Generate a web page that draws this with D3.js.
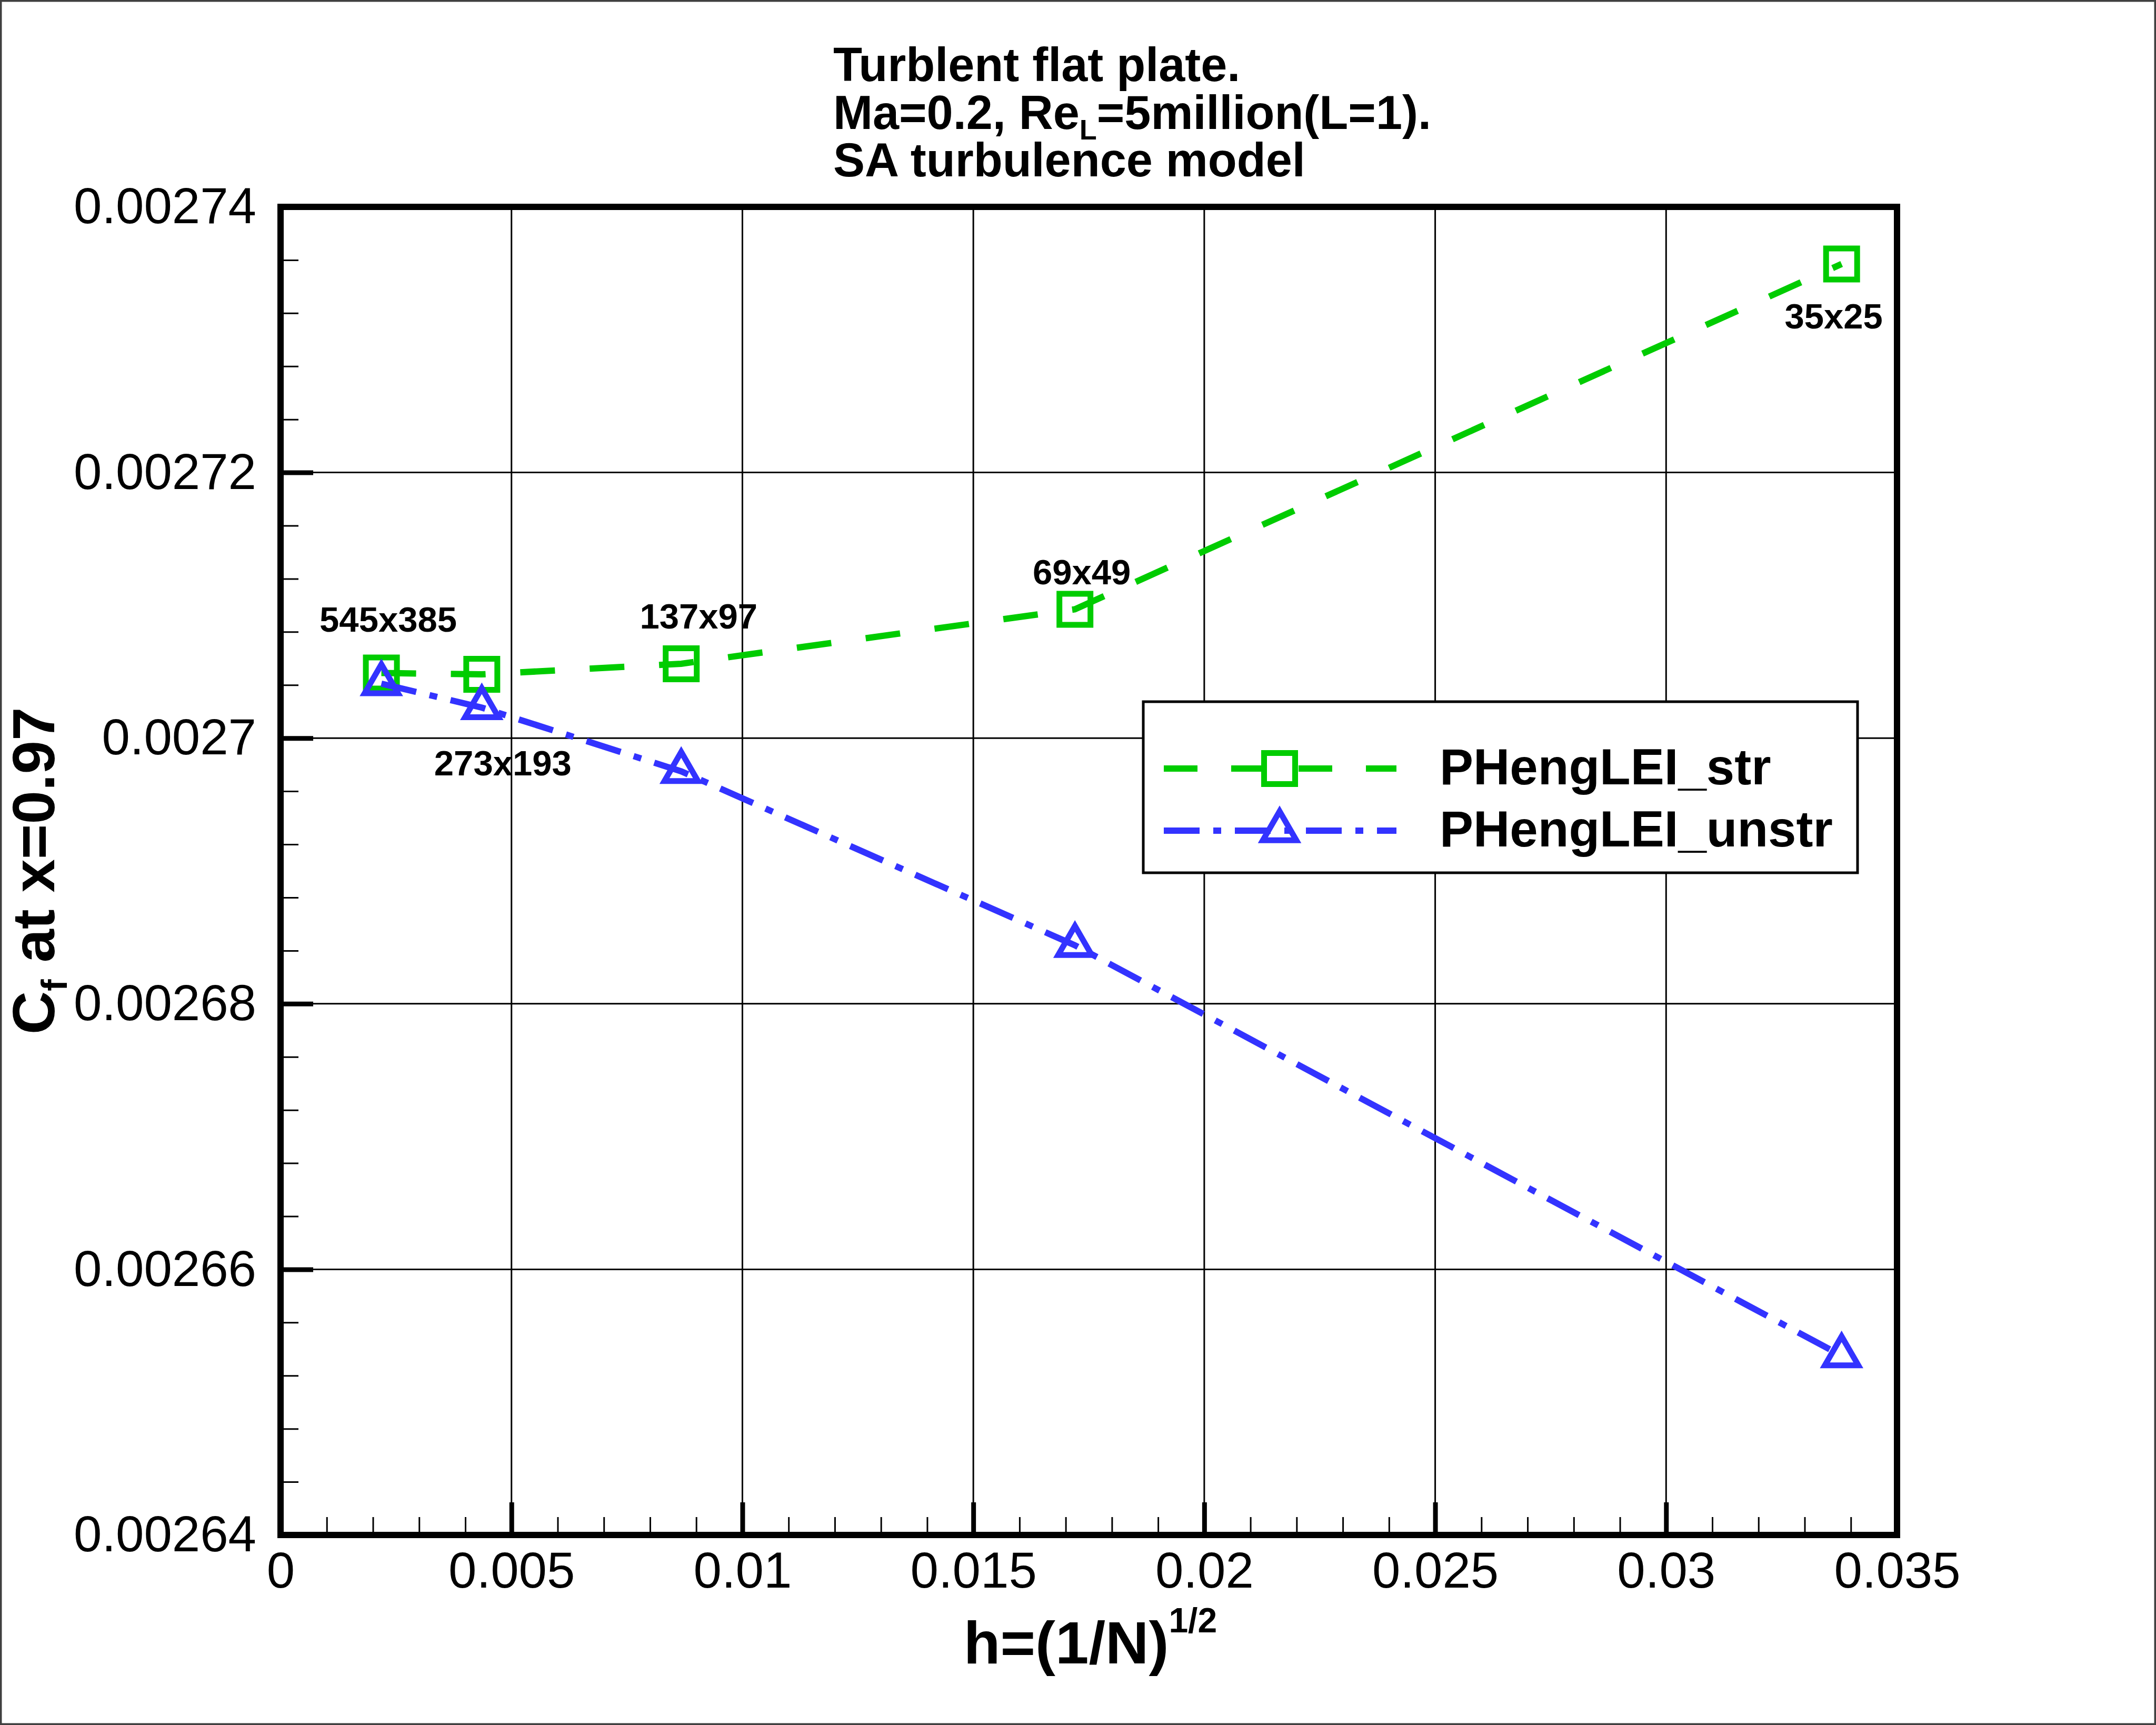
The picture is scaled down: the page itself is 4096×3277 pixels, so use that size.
<!DOCTYPE html>
<html>
<head>
<meta charset="utf-8">
<script src="https://cdn.jsdelivr.net/npm/d3@7"></script>
<style>
  body { margin: 0; background: #fff; }
  svg { display: block; font-family: "Liberation Sans", Arial, sans-serif; }
</style>
</head>
<body>
<svg id="chart"></svg>
<script>
const W = 4096, H = 3277;
const margin = {top: 393, right: 4096 - 3604, bottom: 3277 - 2916, left: 533};
const width = W - margin.left - margin.right,
    height = H - margin.top - margin.bottom;

// grid spacing h = (1/N)^(1/2) and the mesh sizes
const hValues = [0.002183, 0.004357, 0.008675, 0.01720, 0.0338];
const meshNames = ["545x385", "273x193", "137x97", "69x49", "35x25"];
// Cf at x=0.97
const cfStr = [0.0027049, 0.0027048, 0.0027056, 0.0027097, 0.0027357];
const cfUnstr = [0.0027041, 0.0027023, 0.0026975, 0.0026844, 0.0026535];

const xTicks = [0, 0.005, 0.01, 0.015, 0.02, 0.025, 0.03, 0.035];
const xTickLabels = ["0", "0.005", "0.01", "0.015", "0.02", "0.025", "0.03", "0.035"];
const yTicks = [0.00264, 0.00266, 0.00268, 0.0027, 0.00272, 0.00274];
const yTickLabels = ["0.00264", "0.00266", "0.00268", "0.0027", "0.00272", "0.00274"];

const seriesNames = ["PHengLEI_str", "PHengLEI_unstr"];

var green = "#00cc00";
var blue = "#3333ff";

const svg = d3.select("#chart")
    .attr("width", W)
    .attr("height", H);

svg.append("rect")
    .attr("width", W).attr("height", H)
    .attr("fill", "#fff")
    .attr("stroke", "#404040")
    .attr("stroke-width", 7);

const g = svg.append("g")
    .attr("transform", "translate(" + margin.left + "," + margin.top + ")");

var xScale = d3.scaleLinear().domain([0, 0.035]).range([0, width]);
var yScale = d3.scaleLinear().domain([0.00264, 0.00274]).range([height, 0]);

// minor ticks, 5 subdivisions between majors
var xMinor = d3.range(0, 36).map(function (i) { return i * 0.001; });
var yMinor = d3.range(0, 26).map(function (i) { return 0.00264 + i * 0.000004; });

// grid
g.append("g").selectAll("line")
    .data(xTicks.slice(1, -1))
    .enter().append("line")
    .attr("x1", function (d) { return xScale(d); })
    .attr("x2", function (d) { return xScale(d); })
    .attr("y1", 0).attr("y2", height)
    .attr("stroke", "#000").attr("stroke-width", 3);

g.append("g").selectAll("line")
    .data(yTicks.slice(1, -1))
    .enter().append("line")
    .attr("y1", function (d) { return yScale(d); })
    .attr("y2", function (d) { return yScale(d); })
    .attr("x1", 0).attr("x2", width)
    .attr("stroke", "#000").attr("stroke-width", 3);

// minor ticks (inward)
g.append("g")
    .attr("class", "x-minor")
    .attr("transform", "translate(0," + height + ")")
    .call(d3.axisBottom(xScale).tickValues(xMinor).tickSize(-34).tickFormat(""));
g.append("g")
    .attr("class", "y-minor")
    .call(d3.axisLeft(yScale).tickValues(yMinor).tickSize(-34).tickFormat(""));

// major ticks + labels
g.append("g")
    .attr("class", "x-axis")
    .attr("transform", "translate(0," + height + ")")
    .call(d3.axisBottom(xScale)
        .tickValues(xTicks)
        .tickSize(-62)
        .tickPadding(32)
        .tickFormat(function (d, i) { return xTickLabels[i]; }));

g.append("g")
    .attr("class", "y-axis")
    .call(d3.axisLeft(yScale)
        .tickValues(yTicks)
        .tickSize(-62)
        .tickPadding(46)
        .tickFormat(function (d, i) { return yTickLabels[i]; }));

g.selectAll(".domain").remove();
g.selectAll(".x-minor line, .y-minor line").attr("stroke", "#000").attr("stroke-width", 3);
g.selectAll(".x-axis line, .y-axis line").attr("stroke", "#000").attr("stroke-width", 9);
g.selectAll(".x-axis text, .y-axis text")
    .attr("fill", "#000")
    .style("font-size", "96px")
    .style("font-family", "'Liberation Sans', Arial, sans-serif");

// frame
g.append("rect")
    .attr("x", 0).attr("y", 0)
    .attr("width", width).attr("height", height)
    .attr("fill", "none")
    .attr("stroke", "#000")
    .attr("stroke-width", 12);

// series
var series = [
    {name: seriesNames[0], values: cfStr, color: green, dash: "66,66", symbol: d3.symbolSquare, size: 3481},
    {name: seriesNames[1], values: cfUnstr, color: blue, dash: "68,26,15,26", symbol: d3.symbolTriangle, size: 1750}
];

var line = d3.line()
    .x(function (d) { return xScale(d[0]); })
    .y(function (d) { return yScale(d[1]); });

series.forEach(function (s) {
    var pts = hValues.map(function (h, i) { return [h, s.values[i]]; });

    g.append("path")
        .datum(pts)
        .attr("d", line)
        .attr("fill", "none")
        .attr("stroke", s.color)
        .attr("stroke-width", 12)
        .attr("stroke-dasharray", s.dash);

    g.append("g").selectAll("path")
        .data(pts)
        .enter().append("path")
        .attr("transform", function (d) { return "translate(" + xScale(d[0]) + "," + yScale(d[1]) + ")"; })
        .attr("d", d3.symbol().type(s.symbol).size(s.size))
        .attr("fill", "none")
        .attr("stroke", s.color)
        .attr("stroke-width", 11);
});

// mesh labels, placed next to the point they belong to
var labelOffsets = [
    {s: 0, dx: 13, dy: -79},
    {s: 1, dx: 40, dy: 129},
    {s: 0, dx: 33, dy: -67},
    {s: 0, dx: 13, dy: -47},
    {s: 0, dx: -15, dy: 123}
];

g.append("g").selectAll("text")
    .data(meshNames)
    .enter().append("text")
    .attr("x", function (d, i) { return xScale(hValues[i]) + labelOffsets[i].dx; })
    .attr("y", function (d, i) { return yScale(series[labelOffsets[i].s].values[i]) + labelOffsets[i].dy; })
    .attr("text-anchor", "middle")
    .style("font-size", "67px")
    .style("font-weight", "bold")
    .text(function (d) { return d; });

// legend
var legend = svg.append("g").attr("transform", "translate(2172,1333)");
legend.append("rect")
    .attr("width", 1357).attr("height", 325)
    .attr("fill", "#fff")
    .attr("stroke", "#000")
    .attr("stroke-width", 5);

var legendRows = legend.selectAll("g.row")
    .data(series)
    .enter().append("g")
    .attr("class", "row")
    .attr("transform", function (d, i) { return "translate(0," + (127 + i * 118) + ")"; });

legendRows.append("line")
    .attr("x1", 39).attr("x2", 481)
    .attr("stroke", function (d) { return d.color; })
    .attr("stroke-width", 12)
    .attr("stroke-dasharray", function (d, i) { return i === 0 ? "64,64" : d.dash; });

legendRows.append("path")
    .attr("transform", "translate(259,0)")
    .attr("d", function (d) { return d3.symbol().type(d.symbol).size(d.size)(); })
    .attr("fill", "none")
    .attr("stroke", function (d) { return d.color; })
    .attr("stroke-width", 11);

legendRows.append("text")
    .attr("x", 563)
    .attr("y", 30)
    .style("font-size", "96px")
    .style("font-weight", "bold")
    .text(function (d) { return d.name; });

// title, three lines
var titleX = 1583;
svg.append("text")
    .attr("x", titleX).attr("y", 154)
    .style("font-size", "90px").style("font-weight", "bold")
    .text("Turblent flat plate.");

var t2 = svg.append("text")
    .attr("x", titleX).attr("y", 245)
    .style("font-size", "90px").style("font-weight", "bold");
t2.append("tspan").text("Ma=0.2, Re");
t2.append("tspan").attr("dy", 20).style("font-size", "54px").text("L");
t2.append("tspan").attr("dy", -20).text("=5million(L=1).");

svg.append("text")
    .attr("x", titleX).attr("y", 335)
    .style("font-size", "90px").style("font-weight", "bold")
    .text("SA turbulence model");

// x axis title
var xt = svg.append("text")
    .attr("x", margin.left + width / 2 + 3)
    .attr("y", 3160)
    .attr("text-anchor", "middle")
    .style("font-size", "114px")
    .style("font-weight", "bold");
xt.append("tspan").text("h=(1/N)");
xt.append("tspan").attr("dy", -59).style("font-size", "66px").text("1/2");

// y axis title
var yt = svg.append("text")
    .attr("transform", "translate(103," + (margin.top + height / 2) + ") rotate(-90)")
    .attr("text-anchor", "middle")
    .style("font-size", "114px")
    .style("font-weight", "bold");
yt.append("tspan").text("C");
yt.append("tspan").attr("dy", 24).style("font-size", "68px").text("f");
yt.append("tspan").attr("dy", -24).text(" at x=0.97");
</script>
</body>
</html>
